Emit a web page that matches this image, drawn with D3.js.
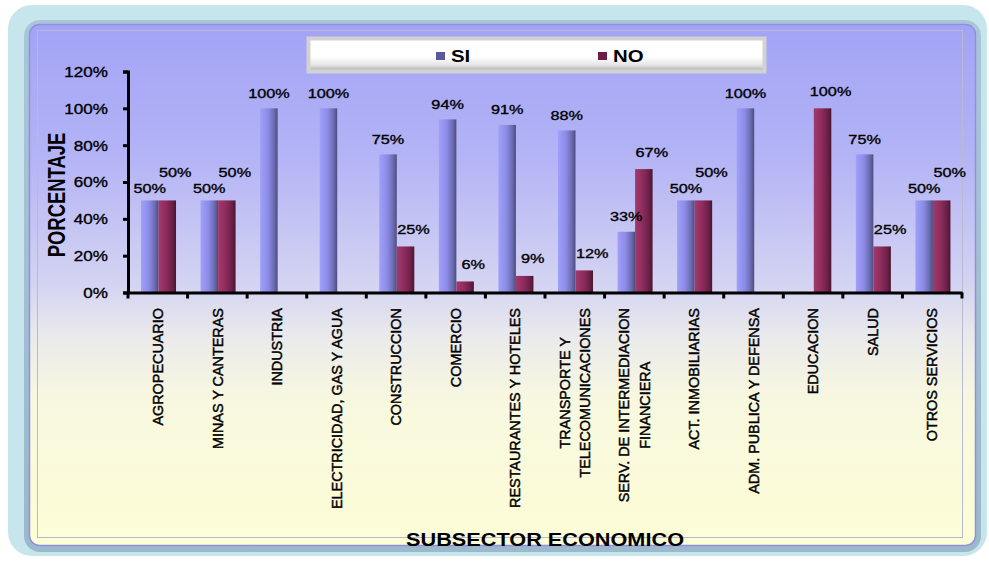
<!DOCTYPE html>
<html>
<head>
<meta charset="utf-8">
<script src="https://cdn.jsdelivr.net/npm/d3@7"></script>
<style>
  html, body { margin: 0; padding: 0; background: #ffffff; }
  svg { display: block; font-family: "Liberation Sans", Arial, sans-serif; }
  .heavy { stroke: #000; stroke-width: 0.35px; }
</style>
</head>
<body>
<svg id="chart" width="989" height="562"></svg>
<script>
// ---- data ----
const categories = [
  "AGROPECUARIO", "MINAS Y CANTERAS", "INDUSTRIA", "ELECTRICIDAD, GAS Y AGUA",
  "CONSTRUCCION", "COMERCIO", "RESTAURANTES Y HOTELES", "TRANSPORTE Y\nTELECOMUNICACIONES",
  "SERV. DE INTERMEDIACION\nFINANCIERA", "ACT. INMOBILIARIAS", "ADM. PUBLICA Y DEFENSA",
  "EDUCACION", "SALUD", "OTROS SERVICIOS"
];
const seriesNames = ["SI", "NO"];
const siValues = [0.50, 0.50, 1.00, 1.00, 0.75, 0.94, 0.91, 0.88, 0.33, 0.50, 1.00, 0.00, 0.75, 0.50];
const noValues = [0.50, 0.50, 0.00, 0.00, 0.25, 0.06, 0.09, 0.12, 0.67, 0.50, 0.00, 1.00, 0.25, 0.50];
const yTicks = [0, 0.2, 0.4, 0.6, 0.8, 1.0, 1.2];
const yTitle = "PORCENTAJE";
const xTitle = "SUBSECTOR ECONOMICO";

const rows = categories.map((c, i) => ({ cat: c, SI: siValues[i], NO: noValues[i] }));

// ---- layout ----
const svg = d3.select("#chart");
const defs = svg.append("defs");
const plot = { left: 128, right: 962, top: 71.5, bottom: 292.5 };

function linGrad(id, stops, vertical) {
  const g = defs.append("linearGradient").attr("id", id)
    .attr("x1", 0).attr("y1", 0).attr("x2", vertical ? 0 : 1).attr("y2", vertical ? 1 : 0);
  stops.forEach(s => g.append("stop").attr("offset", s[0]).attr("stop-color", s[1]));
}
linGrad("bg", [[0, "#a3a3f6"], [0.25, "#b3b3f6"], [0.5, "#d4d4f2"], [0.6, "#eaeaec"], [0.72, "#f8f8e0"], [1, "#fdfdd6"]], true);
linGrad("gSI", [[0, "#a0a0fa"], [0.45, "#8c8ce8"], [0.8, "#6a6aae"], [1, "#4c4c80"]], false);
linGrad("gNO", [[0, "#a23a6c"], [0.45, "#8c2c5c"], [0.8, "#6a2046"], [1, "#4a1630"]], false);
linGrad("legBg", [[0, "#ffffff"], [0.55, "#ffffff"], [0.8, "#e6e6e6"], [1, "#a8a8a8"]], true);
linGrad("frameShade", [[0, "#a9c6d8"], [1, "#9cb8cc"]], true);

// frame
svg.append("rect").attr("x", 8).attr("y", 5).attr("width", 979).attr("height", 551)
  .attr("rx", 24).attr("fill", "#c6e5ec");
svg.append("rect").attr("x", 24).attr("y", 20).attr("width", 957).attr("height", 532)
  .attr("rx", 16).attr("fill", "url(#frameShade)");
svg.append("rect").attr("x", 29.5).attr("y", 24.5).attr("width", 946).attr("height", 521)
  .attr("rx", 10).attr("fill", "url(#bg)").attr("stroke", "#8e92dc").attr("stroke-width", 1.5);
svg.append("rect").attr("x", 37.5).attr("y", 30.5).attr("width", 925).attr("height", 507)
  .attr("fill", "none").attr("stroke", "#b9b9d2").attr("stroke-width", 1);

// scales
const x0 = d3.scaleBand().domain(categories).range([plot.left, plot.right]).padding(0);
const step = x0.step();
const x1 = d3.scaleBand().domain(seriesNames).range([step * 0.218, step * 0.806]).padding(0);
const y = d3.scaleLinear().domain([0, 1.2]).range([plot.bottom, plot.top]);

// bars
const groups = svg.append("g").selectAll("g").data(rows).join("g")
  .attr("transform", d => `translate(${x0(d.cat)},0)`);
groups.selectAll("rect").data(d => seriesNames.map(k => ({ key: k, v: d[k] })).filter(e => e.v > 0))
  .join("rect")
  .attr("x", e => x1(e.key)).attr("width", x1.bandwidth())
  .attr("y", e => y(e.v)).attr("height", e => y(0) - y(e.v))
  .attr("fill", e => e.key === "SI" ? "url(#gSI)" : "url(#gNO)");

// data labels
rows.forEach(d => {
  const tie = d.SI > 0 && d.NO > 0 && Math.abs(d.SI - d.NO) < 0.001;
  seriesNames.forEach(k => {
    const v = d[k];
    if (!(v > 0)) return;
    const cx = x0(d.cat) + x1(k) + x1.bandwidth() / 2 + (k === "NO" ? 8 : 0);
    const off = k === "SI" ? (tie ? 12 : 15) : (tie ? 28 : 17);
    svg.append("text").attr("class", "heavy")
      .attr("transform", `translate(${cx},${y(v) - off}) scale(1.25,1)`)
      .attr("text-anchor", "middle").attr("dy", "0.35em")
      .attr("font-size", 13).attr("fill", "#000")
      .text(d3.format(".0%")(v));
  });
});

// y axis
const yAxis = d3.axisLeft(y).tickValues(yTicks).tickFormat(d3.format(".0%")).tickSize(5).tickPadding(0);
const gy = svg.append("g").attr("transform", `translate(${plot.left},0)`).call(yAxis);
gy.select(".domain").attr("stroke", "#000").attr("stroke-width", 3);
gy.selectAll(".tick line").attr("stroke", "#000").attr("stroke-width", 3);
gy.selectAll(".tick text").attr("font-size", 14).attr("fill", "#000").attr("font-family", null)
  .attr("class", "heavy")
  .attr("x", null).attr("dy", "0.35em")
  .attr("transform", "translate(-20,0) scale(1.22,1)");

// x axis
const xAxis = d3.axisBottom(x0).tickValues([]).tickSizeOuter(0);
const gx = svg.append("g").attr("transform", `translate(0,${plot.bottom})`).call(xAxis);
gx.select(".domain").attr("stroke", "#000").attr("stroke-width", 3);
const boundaries = categories.map(c => x0(c)).concat([plot.right]);
gx.selectAll("line.bt").data(boundaries).join("line").attr("class", "bt")
  .attr("x1", d => d).attr("x2", d => d).attr("y1", 0).attr("y2", 6)
  .attr("stroke", "#000").attr("stroke-width", 3);

// category labels (rotated, multi-line centered)
const labTop = 308, lineGap = 16.5, catFont = 12;
const measure = svg.append("text").attr("font-size", catFont).attr("visibility", "hidden");
categories.forEach(c => {
  const lines = c.split("\n");
  let L = 0;
  lines.forEach(t => { measure.text(t); L = Math.max(L, measure.node().getComputedTextLength()); });
  const g = svg.append("g")
    .attr("transform", `translate(${x0(c) + step / 2},${labTop}) scale(1.25,1.2) rotate(-90)`);
  lines.forEach((t, i) => {
    g.append("text").attr("class", "heavy")
      .attr("x", -L / 2).attr("y", (i - (lines.length - 1) / 2) * lineGap)
      .attr("dy", "0.35em").attr("text-anchor", "middle")
      .attr("font-size", catFont).attr("fill", "#000").text(t);
  });
});
measure.remove();

// axis titles
svg.append("text").attr("transform", "translate(65,195) scale(1.25,0.97) rotate(-90)")
  .attr("text-anchor", "middle").attr("font-size", 19).attr("font-weight", "bold").text(yTitle);
svg.append("text").attr("transform", `translate(${(plot.left + plot.right) / 2},546) scale(1.24,1)`)
  .attr("text-anchor", "middle").attr("font-size", 17.5).attr("font-weight", "bold").text(xTitle);

// legend
svg.append("rect").attr("x", 308.5).attr("y", 38.5).attr("width", 456).attr("height", 33)
  .attr("fill", "url(#legBg)").attr("stroke", "#d2d2d2").attr("stroke-width", 4);
const legColor = { SI: "#5a5a98", NO: "#6e1e44" };
const legX = { SI: 436, NO: 598 };
seriesNames.forEach(k => {
  svg.append("rect").attr("x", legX[k]).attr("y", 52).attr("width", 9).attr("height", 8).attr("fill", legColor[k]);
  svg.append("text").attr("transform", `translate(${legX[k] + 15},62) scale(1.2,1)`)
    .attr("font-size", 17).attr("font-weight", "bold").text(k);
});
</script>
</body>
</html>
